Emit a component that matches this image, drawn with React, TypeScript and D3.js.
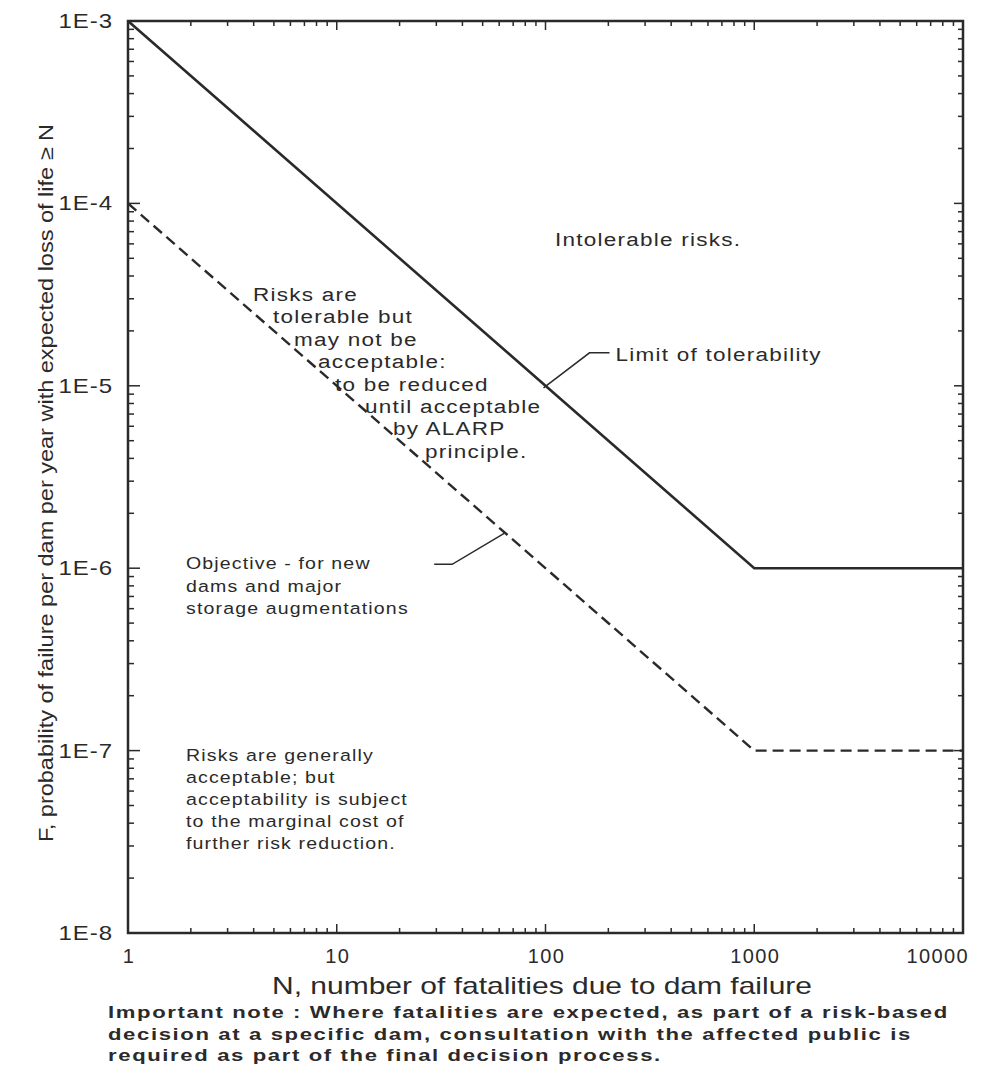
import React from "react";
import * as d3 from "d3";

const limitN = [1, 1000, 10000];
const limitF = [1e-3, 1e-6, 1e-6];
const objectiveN = [1, 1000, 10000];
const objectiveF = [1e-4, 1e-7, 1e-7];
const xTickValues = [1, 10, 100, 1000, 10000];
const xTickLabels = ["1", "10", "100", "1000", "10000"];
const yTickValues = [1e-3, 1e-4, 1e-5, 1e-6, 1e-7, 1e-8];
const yTickLabels = ["1E-3", "1E-4", "1E-5", "1E-6", "1E-7", "1E-8"];

const tolerableLines = [
  "Risks are",
  "tolerable but",
  "may not be",
  "acceptable:",
  "to be reduced",
  "until acceptable",
  "by ALARP",
  "principle.",
];
const tolerableX = [253, 273, 294, 318, 335, 365, 393, 425];
const objectiveLines = ["Objective - for new", "dams and major", "storage augmentations"];
const acceptableLines = [
  "Risks are generally",
  "acceptable; but",
  "acceptability is subject",
  "to the marginal cost of",
  "further risk reduction.",
];
const noteLines = [
  "Important note : Where fatalities are expected, as part of a risk-based",
  "decision at a specific dam, consultation with the affected public is",
  "required as part of the final decision process.",
];

const W = 997;
const H = 1071;
const left = 128;
const right = 963;
const top = 21;
const bottom = 933;

const sans = "'Liberation Sans', Arial, Helvetica, sans-serif";
const ink = "#2a2a2a";

function SText(props: {
  x: number;
  y: number;
  sx: number;
  children: React.ReactNode;
  anchor?: string;
}) {
  return (
    <text
      transform={`translate(${props.x},${props.y}) scale(${props.sx},1)`}
      textAnchor={props.anchor || "start"}
    >
      {props.children}
    </text>
  );
}

export default function App() {
  const x = d3.scaleLog().domain([1, 10000]).range([left, right]);
  const y = d3.scaleLog().domain([1e-8, 1e-3]).range([bottom, top]);
  const line = d3
    .line<[number, number]>()
    .x((d) => x(d[0]))
    .y((d) => y(d[1]));
  const limitPts = limitN.map((n, i) => [n, limitF[i]] as [number, number]);
  const objPts = objectiveN.map((n, i) => [n, objectiveF[i]] as [number, number]);

  const xMinor: number[] = [];
  for (let e = 0; e < 4; e++) for (let k = 2; k <= 9; k++) xMinor.push(k * Math.pow(10, e));
  const yMinor: number[] = [];
  for (let e = -8; e < -3; e++) for (let k = 2; k <= 9; k++) yMinor.push(k * Math.pow(10, e));

  const major = 9;
  const minor = 5;

  const limAx = x(100);
  const limAy = y(1e-5);
  const objAnchorN = 62;
  const objAx = x(objAnchorN);
  const objAy = y(1e-4 / objAnchorN);

  return (
    <svg
      width={W}
      height={H}
      style={{ position: "absolute", left: 0, top: 0, background: "#fff" }}
    >
      <g stroke={ink} strokeWidth={1.5}>
        {xTickValues.map((v) => (
          <g key={"xt" + v}>
            <line x1={x(v)} x2={x(v)} y1={bottom} y2={bottom - major} />
            <line x1={x(v)} x2={x(v)} y1={top} y2={top + major} />
          </g>
        ))}
        {xMinor.map((v) => (
          <g key={"xm" + v}>
            <line x1={x(v)} x2={x(v)} y1={bottom} y2={bottom - minor} />
            <line x1={x(v)} x2={x(v)} y1={top} y2={top + minor} />
          </g>
        ))}
        {yTickValues.map((v) => (
          <g key={"yt" + v}>
            <line x1={left} x2={left + major + 3} y1={y(v)} y2={y(v)} />
            <line x1={right} x2={right - major} y1={y(v)} y2={y(v)} />
          </g>
        ))}
        {yMinor.map((v) => (
          <g key={"ym" + v}>
            <line x1={left} x2={left + minor + 1} y1={y(v)} y2={y(v)} />
            <line x1={right} x2={right - minor} y1={y(v)} y2={y(v)} />
          </g>
        ))}
      </g>

      <rect
        x={left}
        y={top}
        width={right - left}
        height={bottom - top}
        fill="none"
        stroke={ink}
        strokeWidth={2.5}
      />

      <path d={line(limitPts) || ""} fill="none" stroke={ink} strokeWidth={2.6} />
      <path
        d={line(objPts) || ""}
        fill="none"
        stroke={ink}
        strokeWidth={2.4}
        strokeDasharray="11 6"
      />

      <polyline
        points={`${limAx - 2},${limAy + 2} ${limAx + 44},${limAy - 33} ${limAx + 64},${limAy - 33}`}
        fill="none"
        stroke={ink}
        strokeWidth={1.5}
      />
      <polyline
        points={`${objAx + 2},${objAy + 3} ${objAx - 50},${objAy + 34} ${objAx - 68},${objAy + 34}`}
        fill="none"
        stroke={ink}
        strokeWidth={1.5}
      />

      <g fontFamily={sans} fontSize={20} fill={ink}>
        {xTickValues.map((v, i) => (
          <text
            key={"xl" + v}
            x={i === xTickValues.length - 1 ? x(v) + 6 : x(v) + 1}
            y={bottom + 30}
            textAnchor={i === xTickValues.length - 1 ? "end" : "middle"}
            letterSpacing={1.4}
          >
            {xTickLabels[i]}
          </text>
        ))}
      </g>
      <g fontFamily={sans} fontSize={20} fill={ink} letterSpacing={0.8}>
        {yTickValues.map((v, i) => (
          <SText key={"yl" + v} x={left - 15} y={y(v) + 7} sx={1.2} anchor="end">
            {yTickLabels[i]}
          </SText>
        ))}
      </g>

      <text
        x={542}
        y={994}
        textAnchor="middle"
        fontFamily={sans}
        fontSize={24}
        fill={ink}
        textLength={540}
        lengthAdjust="spacingAndGlyphs"
      >
        N, number of fatalities due to dam failure
      </text>
      <text
        transform={`translate(53, 483) rotate(-90)`}
        textAnchor="middle"
        fontFamily={sans}
        fontSize={20}
        fill={ink}
        textLength={718}
        lengthAdjust="spacingAndGlyphs"
      >
        F, probability of failure per dam per year with expected loss of life ≥ N
      </text>

      <g fontFamily={sans} fontSize={18} fill={ink} letterSpacing={1.0}>
        <SText x={555} y={246} sx={1.25}>
          Intolerable risks.
        </SText>
        {tolerableLines.map((t, i) => (
          <SText key={"tl" + i} x={tolerableX[i]} y={301 + i * 22.4} sx={1.25}>
            {t}
          </SText>
        ))}
        <SText x={limAx + 70} y={limAy - 25} sx={1.25}>
          Limit of tolerability
        </SText>
      </g>
      <g fontFamily={sans} fontSize={17} fill={ink} letterSpacing={1.0}>
        {objectiveLines.map((t, i) => (
          <SText key={"ol" + i} x={186} y={569 + i * 22.5} sx={1.15}>
            {t}
          </SText>
        ))}
        {acceptableLines.map((t, i) => (
          <SText key={"al" + i} x={186} y={761 + i * 22} sx={1.15}>
            {t}
          </SText>
        ))}
      </g>

      <g fontFamily={sans} fontSize={17} fontWeight="bold" fill={ink} letterSpacing={1.25}>
        {noteLines.map((t, i) => (
          <SText key={"nl" + i} x={108} y={1018 + i * 21.5} sx={1.3}>
            {t}
          </SText>
        ))}
      </g>
    </svg>
  );
}
